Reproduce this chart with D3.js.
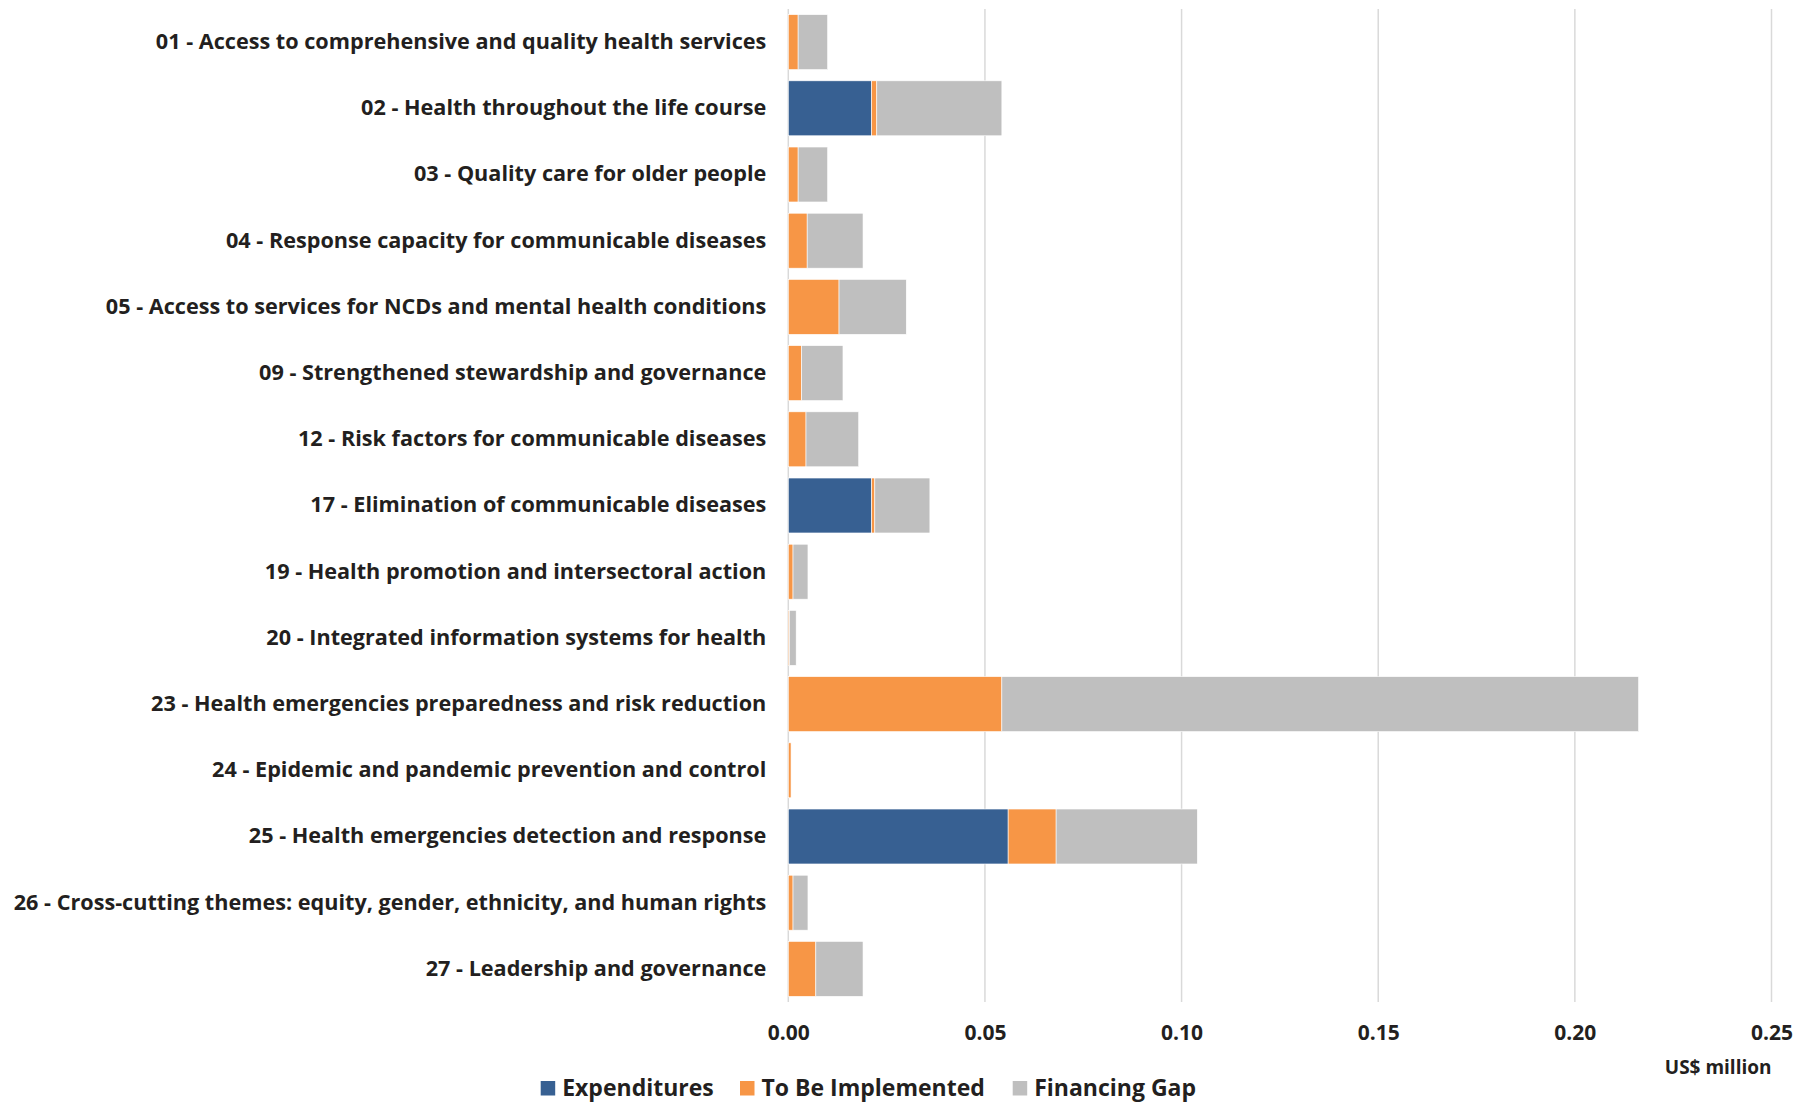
<!DOCTYPE html>
<html>
<head>
<meta charset="utf-8">
<script src="https://cdn.jsdelivr.net/npm/d3@7"></script>
<style>
  html, body { margin: 0; padding: 0; background: #ffffff; }
  svg { display: block; }
  text { font-family: "Open Sans", "Noto Sans", sans-serif; font-weight: bold; fill: #231f20; }
</style>
</head>
<body>
<svg id="chart" width="1816" height="1102"></svg>
<script>
const categories = [
  "01 - Access to comprehensive and quality health services",
  "02 - Health throughout the life course",
  "03 - Quality care for older people",
  "04 - Response capacity for communicable diseases",
  "05 - Access to services for NCDs and mental health conditions",
  "09 - Strengthened stewardship and governance",
  "12 - Risk factors for communicable diseases",
  "17 - Elimination of communicable diseases",
  "19 - Health promotion and intersectoral action",
  "20 - Integrated information systems for health",
  "23 - Health emergencies preparedness and risk reduction",
  "24 - Epidemic and pandemic prevention and control",
  "25 - Health emergencies detection and response",
  "26 - Cross-cutting themes: equity, gender, ethnicity, and human rights",
  "27 - Leadership and governance"
];
const expenditures   = [0, 0.0212, 0, 0, 0, 0, 0, 0.0212, 0, 0, 0, 0, 0.0559, 0, 0];
const toBeImplemented = [0.0025, 0.0013, 0.0025, 0.0048, 0.0129, 0.0034, 0.0045, 0.0008, 0.0012, 0.0003, 0.0543, 0.0007, 0.0122, 0.0012, 0.0070];
const financingGap   = [0.0075, 0.0318, 0.0075, 0.0142, 0.0171, 0.0105, 0.0134, 0.0140, 0.0038, 0.0017, 0.1619, 0, 0.0359, 0.0038, 0.0120];
const seriesNames = ["Expenditures", "To Be Implemented", "Financing Gap"];
const seriesColors = ["#376092", "#f79646", "#bfbfbf"];
const xTicks = [0, 0.05, 0.10, 0.15, 0.20, 0.25];
const axisTitle = "US$ million";

const svg = d3.select("#chart");
const x = d3.scaleLinear().domain([0, 0.25]).range([788.3, 1771.5]);
const y = d3.scaleBand().domain(categories).range([9, 1002]).paddingInner(0.17).paddingOuter(0.085);

const rows = categories.map((c, i) => ({ cat: c, "Expenditures": expenditures[i], "To Be Implemented": toBeImplemented[i], "Financing Gap": financingGap[i] }));
const stacked = d3.stack().keys(seriesNames)(rows);

// gridlines
svg.append("g").selectAll("line").data(xTicks).join("line")
  .attr("x1", d => x(d)).attr("x2", d => x(d))
  .attr("y1", 9).attr("y2", 1002)
  .attr("stroke", "#d9d9d9").attr("stroke-width", 1.5);

// bars
svg.append("g").selectAll("g").data(stacked).join("g")
  .attr("fill", (d, i) => seriesColors[i])
  .selectAll("rect").data(d => d).join("rect")
  .attr("x", d => x(d[0]))
  .attr("y", d => y(d.data.cat))
  .attr("width", d => Math.max(0, x(d[1]) - x(d[0])))
  .attr("height", y.bandwidth())
  .attr("stroke", "#ffffff").attr("stroke-width", 0.6);

// category labels
const yAxis = d3.axisLeft(y).tickSize(0).tickPadding(22);
const yg = svg.append("g").attr("transform", `translate(${x(0)},0)`).call(yAxis);
yg.select(".domain").remove();
yg.selectAll("text").attr("font-family", null).attr("font-size", null).style("font-size", "23px").style("fill", "#231f20");
// fit longest label to the reference's text block width
let maxW = 0;
yg.selectAll("text").each(function () { maxW = Math.max(maxW, this.getComputedTextLength()); });
const labelSize = 23 * 753 / maxW;
yg.selectAll("text").style("font-size", labelSize + "px");

// x axis
const xAxis = d3.axisBottom(x).tickValues(xTicks).tickFormat(d3.format(".2f")).tickSize(0).tickPadding(0);
const xg = svg.append("g").attr("transform", `translate(0,1040)`).call(xAxis);
xg.select(".domain").remove();
xg.selectAll("text").attr("font-family", null).attr("font-size", null).style("font-size", "21px").attr("dy", null).attr("y", 0);

svg.append("text").attr("x", x(0.25)).attr("y", 1074).attr("text-anchor", "end")
  .style("font-size", "19px").text(axisTitle);

// legend
const legendX = [540.7, 740, 1012.7];
const lg = svg.append("g");
seriesNames.forEach((name, i) => {
  lg.append("rect").attr("x", legendX[i]).attr("y", 1081).attr("width", 14.5).attr("height", 14.5).attr("fill", seriesColors[i]);
  lg.append("text").attr("x", legendX[i] + 21.5).attr("y", 1096).style("font-size", "23px").text(name);
});
</script>
</body>
</html>
